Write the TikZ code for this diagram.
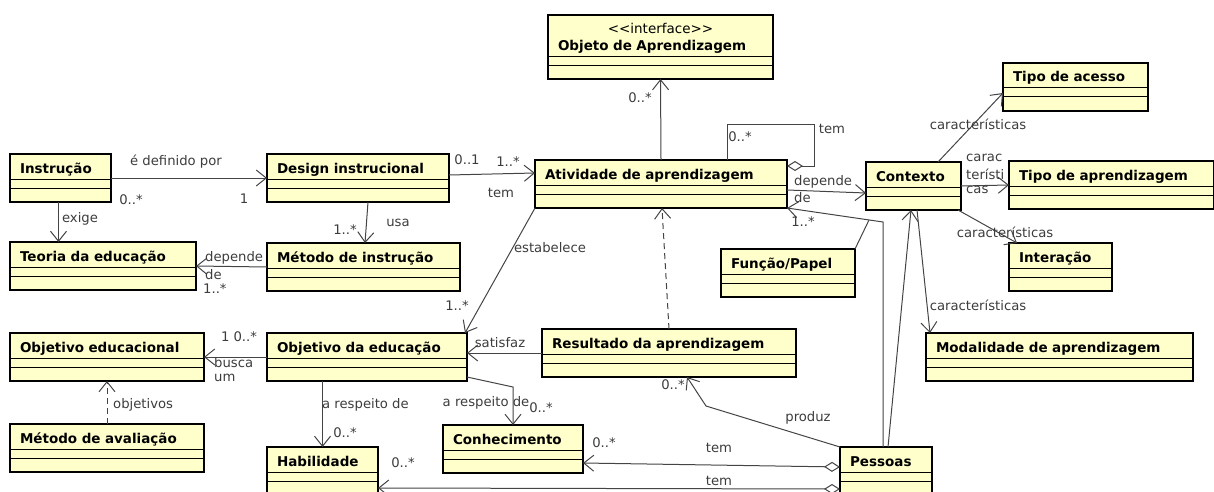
\documentclass[tikz,border=0pt]{standalone}
\usepackage{fontspec}
\usepackage{tikz}
\usetikzlibrary{arrows.meta}
\newfontfamily\umlfont{DejaVu Sans}
\definecolor{classfill}{RGB}{255,255,204}
\definecolor{wire}{RGB}{68,68,68}
\definecolor{labeltext}{RGB}{60,60,60}

\begin{document}
\begin{tikzpicture}[x=1pt, y=-1pt,
	klass/.style={draw, line width=2.2pt, fill=classfill, anchor=north west, outer sep=0pt,
		inner xsep=10pt, inner ysep=0pt, text width=#1, align=left,
		text height=19pt, text depth=29pt, font=\umlfont\bfseries\fontsize{13.5}{17}\selectfont},
	comp/.style 2 args={path picture={\draw[line width=1pt]
		([yshift=-#1pt]path picture bounding box.north west) -- ([yshift=-#1pt]path picture bounding box.north east)
		([yshift=-#2pt]path picture bounding box.north west) -- ([yshift=-#2pt]path picture bounding box.north east);}},
	cls/.style={klass=#1, comp={25}{34}},
	lbl/.style={font=\umlfont\fontsize{13.2}{15}\selectfont, text=labeltext, inner sep=0pt},
	plain/.style={draw=wire, line width=1pt},
	assoc/.style={plain, -{Straight Barb[length=10pt,width=16pt]}},
	dep/.style={assoc, dash pattern=on 6pt off 4pt},
	agg/.style={plain, {Diamond[open,length=16pt,width=10pt]}-},
	hasa/.style={plain, {Diamond[open,length=16pt,width=10pt]}-{Straight Barb[length=10pt,width=16pt]}}]
		\useasboundingbox (0,0) rectangle (1214,492);
		\clip (0,0) rectangle (1214,492);

		\node[cls=81pt] (instr) at (10,154) {Instrução};
		\node[cls=162pt] (design) at (267,154) {Design instrucional};
		\node[cls=166pt] (teoria) at (10,242) {Teoria da educação};
		\node[cls=173pt] (metodo) at (267,243) {Método de instrução};
		\node[klass=205pt, text depth=45pt, comp={42}{51}] (objeto) at (548,15)
			{\makebox[\linewidth]{\mdseries<<interface>>}\\Objeto de Aprendizagem};
		\node[cls=232pt] (ativ) at (535,160) {Atividade de aprendizagem};
		\node[cls=75pt] (contexto) at (866,162) {Contexto};
		\node[cls=125pt] (acesso) at (1003,63) {Tipo de acesso};
		\node[cls=185pt] (tipoapr) at (1009,161) {Tipo de aprendizagem};
		\node[cls=83pt] (interacao) at (1009,243) {Interação};
		\node[cls=114pt] (funcao) at (721,249) {Função/Papel};
		\node[cls=247pt] (modal) at (926,333) {Modalidade de aprendizagem};
		\node[cls=174pt] (objedu) at (10,333) {Objetivo educacional};
		\node[cls=180pt] (objeduc) at (267,333) {Objetivo da educação};
		\node[cls=234pt] (result) at (542,329) {Resultado da aprendizagem};
		\node[cls=174pt] (avalia) at (10,424) {Método de avaliação};
		\node[cls=91pt] (habil) at (267,447) {Habilidade};
		\node[cls=120pt] (conhec) at (443,425) {Conhecimento};
		\node[cls=72pt] (pessoas) at (840,447) {Pessoas};

		\coordinate (pcorner) at (883,222);
		\coordinate (fjoin) at (869,220);
		\coordinate (kbend) at (513,387);
		\coordinate (pbend) at (706,406);

		\draw[assoc] (instr.east) -- (design.west);
		\draw[assoc] ([xshift=-2pt]instr.south) -- ([xshift=-2pt]instr.south |- teoria.north);
		\draw[assoc] ([xshift=10pt]design.south) -- ([xshift=1.5pt]metodo.north);
		\draw[assoc] (metodo.west) -- (teoria.east);
		\draw[assoc] ([yshift=3pt]design.east) -- ([yshift=11pt]ativ.west);
		\draw[assoc] (ativ.north) -- (objeto.south);
		\draw[agg] ([yshift=-6pt]ativ.north east) -- ++(27,0) -- ++(0,-42) -| ([xshift=66pt]ativ.north);
		\draw[assoc] ([yshift=-6pt]ativ.east) -- ([yshift=-7pt]contexto.west);
		\draw[assoc] ([xshift=-3pt]pessoas.north) -- (pcorner) -- (ativ.south east);
		\draw[plain] (funcao.north east) -- (fjoin);
		\draw[assoc] (ativ.south west) -- ([xshift=-2pt]objeduc.north east);
		\draw[dep] (result.north) -- ([xshift=1pt]ativ.south);
		\draw[assoc] (result.west) -- (objeduc.east |- result.west);
		\draw[assoc] (objeduc.west) -- (objedu.east);
		\draw[dep] (avalia.north) -- (objedu.south);
		\draw[assoc] (habil.north |- objeduc.south) -- (habil.north);
		\draw[assoc] ([yshift=4pt]objeduc.south east) -- (kbend) -- (conhec.north);
		\draw[assoc] (pessoas.north west) -- (pbend) -- ([xshift=18pt]result.south);
		\draw[hasa] ([yshift=4pt]pessoas.west) -- ([yshift=-14pt]conhec.east);
		\draw[hasa] ([yshift=-18pt]pessoas.west) -- ([yshift=-17pt]habil.east);
		\draw[assoc] ([xshift=2pt]pessoas.north) -- ([xshift=-2.5pt]contexto.south);
		\draw[assoc] ([xshift=3.5pt]contexto.south) -- ([xshift=4pt]modal.north west);
		\draw[assoc] ([xshift=24.5pt]contexto.north) -- ([yshift=18pt]acesso.south west);
		\draw[assoc] (contexto.east) -- (tipoapr.west);
		\draw[assoc] ([xshift=-3pt]contexto.south east) -- ([xshift=8pt]interacao.north west);

		\node[lbl] (t1) at (176,162) {é definido por};
		\node[lbl] (t2) at (131,200) {0..*};
		\node[lbl] (t3) at (244,199) {1};
		\node[lbl] (t4) at (80,219) {exige};
		\node[lbl] (t5) at (398,223) {usa};
		\node[lbl] (t6) at (345,230) {1..*};
		\node[lbl, anchor=west] (t7) at (205,258) {depende};
		\node[lbl, anchor=west] (t8) at (205,275) {de};
		\node[lbl, anchor=west] (t9) at (203,289) {1..*};
		\node[lbl] (t10) at (467,160) {0..1};
		\node[lbl] (t11) at (508,162) {1..*};
		\node[lbl] (t12) at (501,193) {tem};
		\node[lbl] (t13) at (640,98) {0..*};
		\node[lbl] (t14) at (740,137) {0..*};
		\node[lbl] (t15) at (832,129) {tem};
		\node[lbl, anchor=west] (t16) at (794,182) {depende};
		\node[lbl, anchor=west] (t17) at (794,198) {de};
		\node[lbl] (t18) at (803,222) {1..*};
		\node[lbl] (t19) at (550,248) {estabelece};
		\node[lbl] (t20) at (457,306) {1..*};
		\node[lbl] (t21) at (500,343) {satisfaz};
		\node[lbl] (t22) at (239,337) {1 0..*};
		\node[lbl, anchor=west] (t23) at (214,363) {busca};
		\node[lbl, anchor=west] (t24) at (214,378) {um};
		\node[lbl, anchor=west] (t25) at (113,405) {objetivos};
		\node[lbl, anchor=west] (t26) at (322,405) {a respeito de};
		\node[lbl] (t27) at (345,433) {0..*};
		\node[lbl] (t28) at (486,403) {a respeito de};
		\node[lbl] (t29) at (541,408) {0..*};
		\node[lbl] (t30) at (673,385) {0..*};
		\node[lbl] (t31) at (808,418) {produz};
		\node[lbl] (t32) at (719,448) {tem};
		\node[lbl] (t33) at (604,443) {0..*};
		\node[lbl] (t34) at (719,481) {tem};
		\node[lbl] (t35) at (403,463) {0..*};
		\node[lbl] (t36) at (978,124) {características};
		\node[lbl, anchor=west] (t37) at (966,158) {carac};
		\node[lbl, anchor=west] (t38) at (966,174) {terísti};
		\node[lbl, anchor=west] (t39) at (966,190) {cas};
		\node[lbl] (t40) at (1005,232) {características};
		\node[lbl] (t41) at (978,305) {características};
	\end{tikzpicture}
\end{document}
